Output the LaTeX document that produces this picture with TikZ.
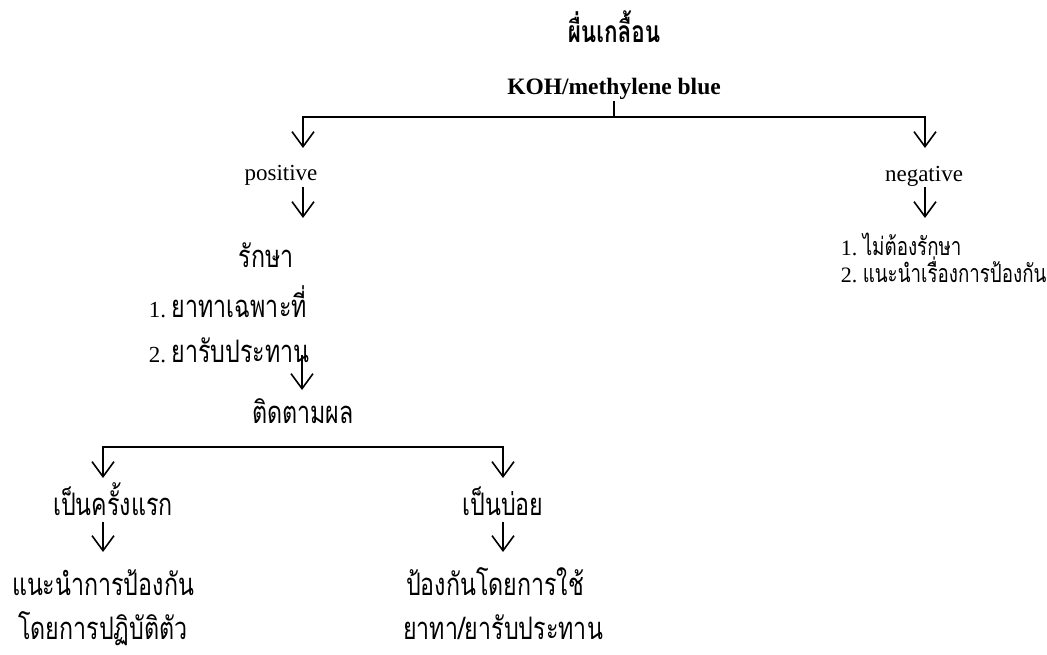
\documentclass[tikz,border=0pt]{standalone}
\usepackage{fontspec}
\setmainfont{Liberation Serif}
\newfontfamily\thai[Script=Thai,FakeStretch=0.75]{Loma}
\usetikzlibrary{arrows.meta}
\newcommand{\numl}[1]{{\fontsize{23}{27}\selectfont\rmfamily #1\ }}
\newcommand{\nums}[1]{{\fontsize{22}{25}\selectfont\rmfamily #1\ }}
\begin{document}
\begin{tikzpicture}[x=1pt,y=-1pt, line width=1.6pt,
 lat/.style={inner sep=0pt, font=\fontsize{23}{27}\selectfont},
 latb/.style={inner sep=0pt, font=\fontsize{23.5}{27}\selectfont\bfseries},
 th/.style={inner sep=0pt, font=\fontsize{31}{34}\selectfont\thai},
 ths/.style={inner sep=0pt, font=\fontsize{25}{28}\selectfont\thai},
 thb/.style={inner sep=0pt, font=\fontsize{30}{34}\selectfont\thai\bfseries},
 arr/.style={-{Straight Barb[length=15pt,width=22pt]}},
 both/.style={{Straight Barb[length=15pt,width=22pt]}-{Straight Barb[length=15pt,width=22pt]}}]
\useasboundingbox (0,0) rectangle (1047,655);
% top
\node[thb, anchor=base] (title) at (614,43) {ผื่นเกลื้อน};
\node[latb, anchor=base] (koh) at (614,95) {KOH/methylene blue};
\coordinate (j1) at (614,117);
\coordinate (t1L) at (303,148);
\coordinate (t1R) at (925,148);
\draw (koh.south) -- (j1);
\draw[both] (t1L) |- (j1) -| (t1R);
% positive branch
\node[lat, anchor=base] (pos) at (281,181) {positive};
\coordinate (pa) at (303,187);
\coordinate (pb) at (303,218);
\draw[arr] (pa) -- (pb);
\node[th, anchor=base] (rak) at (266,268) {รักษา};
\node[th, anchor=base west] (l1) at (148,317) {\numl{1.}ยาทาเฉพาะที่};
\node[th, anchor=base west] (l2) at (148,362) {\numl{2.}ยารับประทาน};
\coordinate (la) at (302,355);
\coordinate (lb) at (302,390);
\draw[arr] (la) -- (lb);
\node[th, anchor=base] (tid) at (303,423) {ติดตามผล};
\coordinate (j2) at (303,447);
\coordinate (t2L) at (103,478);
\coordinate (t2R) at (503,478);
\draw[both] (t2L) |- (j2) -| (t2R);
\node[th, anchor=base] (first) at (113,515) {เป็นครั้งแรก};
\node[th, anchor=base] (often) at (503,515) {เป็นบ่อย};
\coordinate (fa) at (103,522);
\coordinate (fb) at (103,552);
\coordinate (oa) at (503,522);
\coordinate (ob) at (503,552);
\draw[arr] (fa) -- (fb);
\draw[arr] (oa) -- (ob);
\node[th, anchor=base] (f1) at (103,595) {แนะนำการป้องกัน};
\node[th, anchor=base] (f2) at (103,639) {โดยการปฏิบัติตัว};
\node[th, anchor=base] (o1) at (495,595) {ป้องกันโดยการใช้};
\node[th, anchor=base] (o2) at (503,639) {ยาทา/ยารับประทาน};
% negative branch
\node[lat, anchor=base] (neg) at (924,182) {negative};
\coordinate (na) at (925,187);
\coordinate (nb) at (925,218);
\draw[arr] (na) -- (nb);
\node[ths, anchor=base west] (n1) at (840,255) {\nums{1.}ไม่ต้องรักษา};
\node[ths, anchor=base west] (n2) at (840,283) {\nums{2.}แนะนำเรื่องการป้องกัน};
\end{tikzpicture}
\end{document}
